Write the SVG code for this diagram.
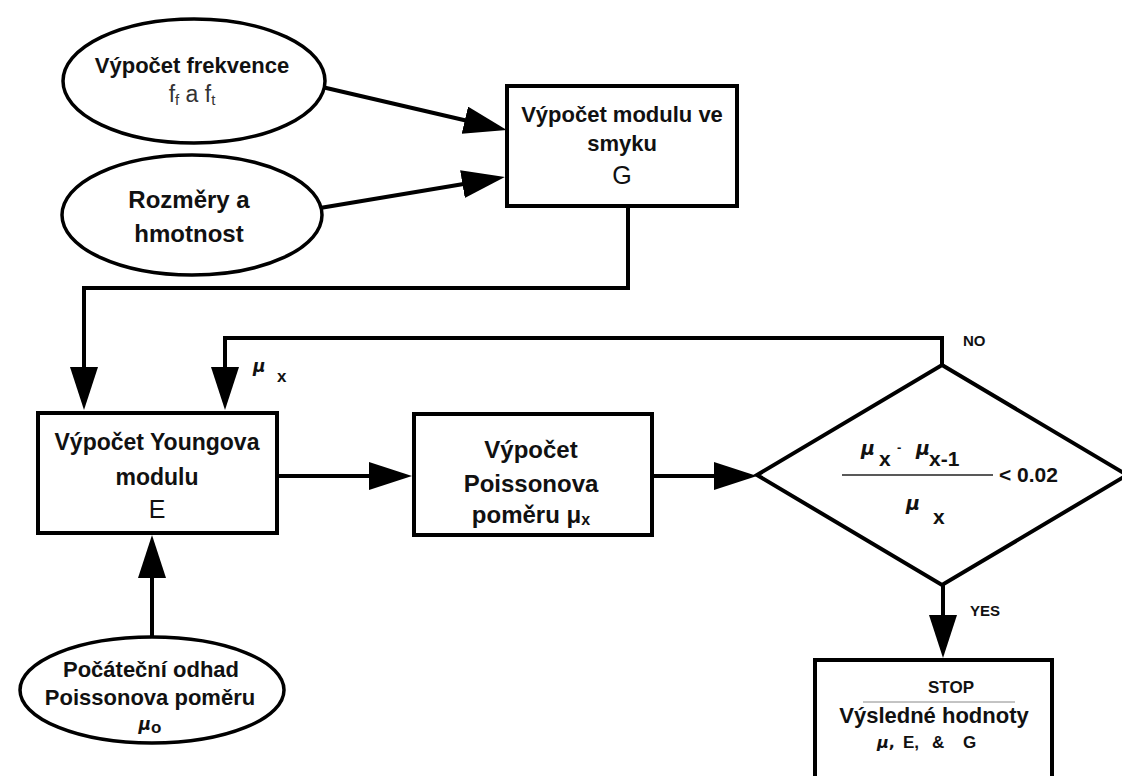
<svg xmlns="http://www.w3.org/2000/svg" width="1122" height="776" viewBox="0 0 1122 776">
<style>
  text { font-family: "Liberation Sans", Arial, sans-serif; fill: #111; }
  .b { font-weight: bold; }
  .c { text-anchor: middle; }
  .mu { font-family: "DejaVu Sans", "Liberation Sans", sans-serif; font-style: italic; font-weight: bold; }
  .node { fill: #fff; stroke: #000; stroke-width: 4; }
  .ell { fill: #fff; stroke: #000; stroke-width: 3.5; }
  .conn { fill: none; stroke: #000; stroke-width: 4; stroke-linejoin: miter; }
</style>
<defs>
  <marker id="ah" markerUnits="userSpaceOnUse" markerWidth="46" markerHeight="30" refX="33" refY="14" orient="auto">
    <path d="M0,0 L43,14 L0,28 z" fill="#000"/>
  </marker>
</defs>

<g id="connectors">
  <line class="conn" x1="322" y1="87" x2="497" y2="127.7" marker-end="url(#ah)"/>
  <line class="conn" x1="320" y1="208" x2="495" y2="178.7" marker-end="url(#ah)"/>
  <path class="conn" d="M628,206 V288 H84 V400" marker-end="url(#ah)"/>
  <path class="conn" d="M942,365 V338 H225 V400" marker-end="url(#ah)"/>
  <path class="conn" d="M277,476 H402" marker-end="url(#ah)"/>
  <path class="conn" d="M652,476 H747" marker-end="url(#ah)"/>
  <path class="conn" d="M152,637 V545" marker-end="url(#ah)"/>
  <path class="conn" d="M943,585 V648" marker-end="url(#ah)"/>
</g>

<g id="freq">
  <ellipse class="ell" cx="194" cy="81" rx="131" ry="62"/>
  <text class="b c" x="192" y="73" font-size="22">Výpočet frekvence</text>
  <text class="c" x="192" y="102" font-size="23" style="fill:#333">f<tspan font-size="15" dy="3">f</tspan><tspan dy="-3"> a f</tspan><tspan font-size="15" dy="3">t</tspan></text>
</g>

<g id="dims">
  <ellipse class="ell" cx="192" cy="215" rx="130" ry="60"/>
  <text class="b c" x="189" y="208" font-size="24">Rozměry a</text>
  <text class="b c" x="189" y="242" font-size="24">hmotnost</text>
</g>

<g id="shear">
  <rect class="node" x="507" y="86" width="230" height="120"/>
  <text class="b c" x="622" y="122" font-size="22">Výpočet modulu ve</text>
  <text class="b c" x="622" y="151" font-size="22">smyku</text>
  <text class="c" x="622" y="184" font-size="25">G</text>
</g>

<g id="young">
  <rect class="node" x="38" y="413" width="239" height="120"/>
  <text class="b c" x="157" y="450" font-size="23">Výpočet Youngova</text>
  <text class="b c" x="157" y="485" font-size="23">modulu</text>
  <text class="c" x="157" y="518" font-size="25">E</text>
</g>

<g id="mux-label">
  <text class="mu" x="253" y="372" font-size="17">μ</text>
  <text class="b" x="277" y="382" font-size="17">x</text>
</g>

<g id="poisson">
  <rect class="node" x="414" y="414" width="238" height="121"/>
  <text class="b c" x="531" y="458" font-size="24">Výpočet</text>
  <text class="b c" x="531" y="492" font-size="24">Poissonova</text>
  <text class="b c" x="531" y="523" font-size="24">poměru μ<tspan font-size="16" dy="2">x</tspan></text>
</g>

<g id="decision">
  <polygon class="node" points="942,365 1127,475 942,585 757,475"/>
  <text class="mu" x="861" y="455" font-size="19">μ</text>
  <text class="b" x="879" y="466" font-size="21">x</text>
  <text class="b" x="897" y="452" font-size="13">-</text>
  <text class="mu" x="916" y="455" font-size="19">μ</text>
  <text class="b" x="929" y="466" font-size="21">x-1</text>
  <line x1="842" y1="475" x2="993" y2="475" stroke="#222" stroke-width="1.5"/>
  <text class="b" x="999" y="482" font-size="21">&lt; 0.02</text>
  <text class="mu" x="906" y="510" font-size="19">μ</text>
  <text class="b" x="933" y="524" font-size="21">x</text>
</g>

<g id="labels">
  <text class="b" x="963" y="346" font-size="15">NO</text>
  <text class="b" x="970" y="616" font-size="15">YES</text>
</g>

<g id="stop">
  <rect class="node" x="815" y="660" width="237" height="140"/>
  <text class="b c" x="951" y="693" font-size="17">STOP</text>
  <line x1="863" y1="702" x2="1015" y2="702" stroke="#888" stroke-width="1"/>
  <text class="b c" x="934" y="723" font-size="22">Výsledné hodnoty</text>
  <text class="mu" x="877" y="748" font-size="16">μ<tspan class="b" style="font-style:normal">,</tspan></text>
  <text class="b" x="903" y="748" font-size="17">E,</text>
  <text class="b" x="932" y="748" font-size="17">&amp;</text>
  <text class="b" x="963" y="748" font-size="17">G</text>
</g>

<g id="initial">
  <ellipse class="ell" cx="152" cy="690" rx="132" ry="53"/>
  <text class="b c" x="151" y="677" font-size="22">Počáteční odhad</text>
  <text class="b c" x="150" y="705" font-size="22">Poissonova poměru</text>
  <text class="c" x="150" y="730"><tspan class="mu" font-size="17">μ</tspan><tspan class="b" font-size="17" dy="3">o</tspan></text>
</g>
</svg>
